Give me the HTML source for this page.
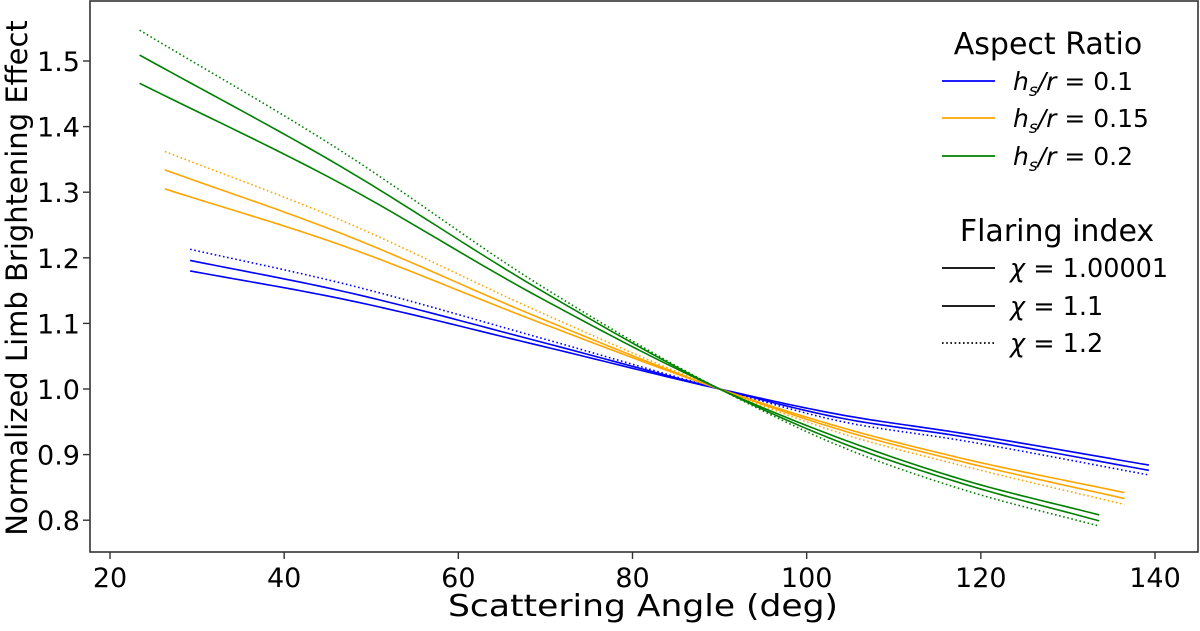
<!DOCTYPE html>
<html><head><meta charset="utf-8"><style>
html,body{margin:0;padding:0;background:#fff;}
svg text{font-family:"DejaVu Sans","Liberation Sans",sans-serif;fill:#000;}
</style></head><body>
<svg id="chart" width="1200" height="626" viewBox="0 0 1200 626" xmlns="http://www.w3.org/2000/svg">
<g id="plot"></g>
<g id="axes"></g>
<g id="legend"></g>
</svg>
<script>
// ---- data ----
const xTicks = [20, 40, 60, 80, 100, 120, 140];
const yTicks = [0.8, 0.9, 1.0, 1.1, 1.2, 1.3, 1.4, 1.5];
const colors = ["#0000ff", "#ffa500", "#008000"];
const aspectLabels = ["0.1", "0.15", "0.2"];
const chiLabels = ["1.00001", "1.1", "1.2"];
// sample angles per aspect ratio
const xBlue   = [29.2, 46.4, 69.4, 90, 103.8, 117.6, 139.3];
const xOrange = [26.3, 46.4, 69.4, 90, 103.8, 117.6, 136.5];
const xGreen  = [23.4, 46.4, 69.4, 90, 103.8, 117.6, 133.6];
// values: chi=1.00001, chi=1.1, chi=1.2
const blueChi1   = [1.180, 1.138, 1.066, 1.0, 0.961, 0.933, 0.884];
const blueChi11  = [1.196, 1.150, 1.072, 1.0, 0.956, 0.928, 0.876];
const blueChi12  = [1.213, 1.162, 1.078, 1.0, 0.951, 0.922, 0.869];
const orangeChi1  = [1.305, 1.220, 1.101, 1.0, 0.942, 0.895, 0.842];
const orangeChi11 = [1.334, 1.238, 1.108, 1.0, 0.938, 0.890, 0.833];
const orangeChi12 = [1.362, 1.258, 1.117, 1.0, 0.933, 0.884, 0.824];
const greenChi1  = [1.466, 1.314, 1.139, 1.0, 0.925, 0.863, 0.808];
const greenChi11 = [1.509, 1.340, 1.151, 1.0, 0.919, 0.857, 0.799];
const greenChi12 = [1.547, 1.364, 1.158, 1.0, 0.913, 0.848, 0.791];

const series = [
  {x: xBlue, ys: [blueChi1, blueChi11, blueChi12], c: 0},
  {x: xOrange, ys: [orangeChi1, orangeChi11, orangeChi12], c: 1},
  {x: xGreen, ys: [greenChi1, greenChi11, greenChi12], c: 2}
];

// ---- axes functions ----
const L = 90, R = 1198, T = 1, B = 552;
function sx(v){ return 110 + (v - 20) * (1155 - 110) / 120; }
function sy(v){ return 389 - (v - 1.0) * 656; }

const NS = "http://www.w3.org/2000/svg";
function mk(tag, attrs, parent){
  const e = document.createElementNS(NS, tag);
  for (const k in attrs) e.setAttribute(k, attrs[k]);
  parent.appendChild(e); return e;
}
// non-uniform Hermite spline in data space, sampled densely
function curvePath(xs, ys){
  const n = xs.length, m = [];
  for (let i = 0; i < n; i++){
    if (i === 0) m.push((ys[1] - ys[0]) / (xs[1] - xs[0]));
    else if (i === n - 1) m.push((ys[n-1] - ys[n-2]) / (xs[n-1] - xs[n-2]));
    else {
      const h0 = xs[i] - xs[i-1], h1 = xs[i+1] - xs[i];
      const d0 = (ys[i] - ys[i-1]) / h0, d1 = (ys[i+1] - ys[i]) / h1;
      m.push((d0 * h1 + d1 * h0) / (h0 + h1));
    }
  }
  let d = "";
  for (let i = 0; i < n - 1; i++){
    const h = xs[i+1] - xs[i];
    const steps = 20;
    for (let s = (i === 0 ? 0 : 1); s <= steps; s++){
      const t = s / steps, t2 = t*t, t3 = t2*t;
      const v = (2*t3 - 3*t2 + 1) * ys[i] + (t3 - 2*t2 + t) * h * m[i] + (-2*t3 + 3*t2) * ys[i+1] + (t3 - t2) * h * m[i+1];
      const xv = xs[i] + t * h;
      d += (d === "" ? "M" : " L") + sx(xv).toFixed(2) + "," + sy(v).toFixed(2);
    }
  }
  return d;
}

const plot = document.getElementById("plot");
series.forEach((s, si) => {
  s.ys.forEach((ys, k) => {
    const p = mk("path", {d: curvePath(s.x, ys), fill: "none", stroke: colors[s.c], "stroke-width": 1.6}, plot);
    if (k === 2) p.setAttribute("stroke-dasharray", "1.6,2.6");
    
    
  });
});

const axes = document.getElementById("axes");
const frame = mk("rect", {x: L, y: T, width: R - L, height: B - T, fill: "none", stroke: "#333", "stroke-width": 1.6}, axes);


xTicks.forEach(v => {
  const x = sx(v);
  const t = mk("line", {x1: x, x2: x, y1: B, y2: B + 7, stroke: "#333", "stroke-width": 1.4}, axes);
  
  
  const l = mk("text", {x: x, y: B + 35, "text-anchor": "middle", "font-size": 27}, axes);
  l.textContent = v;
  
  
});
yTicks.forEach(v => {
  const y = sy(v);
  const t = mk("line", {x1: L - 7, x2: L, y1: y, y2: y, stroke: "#333", "stroke-width": 1.4}, axes);
  
  
  const l = mk("text", {x: L - 10, y: y + 10, "text-anchor": "end", "font-size": 27}, axes);
  l.textContent = v.toFixed(1);
  
  
});
const xt = mk("text", {x: 643, y: 616, "text-anchor": "middle", "font-size": 30, textLength: 390, lengthAdjust: "spacingAndGlyphs"}, axes);
xt.textContent = "Scattering Angle (deg)";


const yt = mk("text", {x: 0, y: 0, "text-anchor": "middle", "font-size": 29, transform: "translate(27,278) rotate(-90)"}, axes);
yt.textContent = "Normalized Limb Brightening Effect";



// ---- legend ----
const lg = document.getElementById("legend");
const t1 = mk("text", {x: 1048, y: 54, "text-anchor": "middle", "font-size": 30}, lg);
t1.textContent = "Aspect Ratio";


[81, 118, 156].forEach((y, i) => {
  const ln = mk("line", {x1: 942, x2: 995, y1: y, y2: y, stroke: colors[i], "stroke-width": 1.8}, lg);
  
  
  const tx = mk("text", {x: 1013, y: y + 9, "font-size": 25}, lg);
  tx.innerHTML = '<tspan font-style="italic">h</tspan><tspan font-style="italic" font-size="17" dy="6">s</tspan><tspan font-style="italic" dy="-6">/r</tspan> = ' + aspectLabels[i];
  
  
});
const t2 = mk("text", {x: 1057, y: 241, "text-anchor": "middle", "font-size": 30}, lg);
t2.textContent = "Flaring index";


[268, 306, 343].forEach((y, i) => {
  const ln = mk("line", {x1: 942, x2: 995, y1: y, y2: y, stroke: "#000", "stroke-width": 1.8}, lg);
  if (i === 2) ln.setAttribute("stroke-dasharray", "1.6,2.6");
  
  
  const tx = mk("text", {x: 1010, y: y + 9, "font-size": 25.5}, lg);
  tx.innerHTML = '<tspan font-style="italic">χ</tspan> = ' + chiLabels[i];
  
  
});
</script>
</body></html>
